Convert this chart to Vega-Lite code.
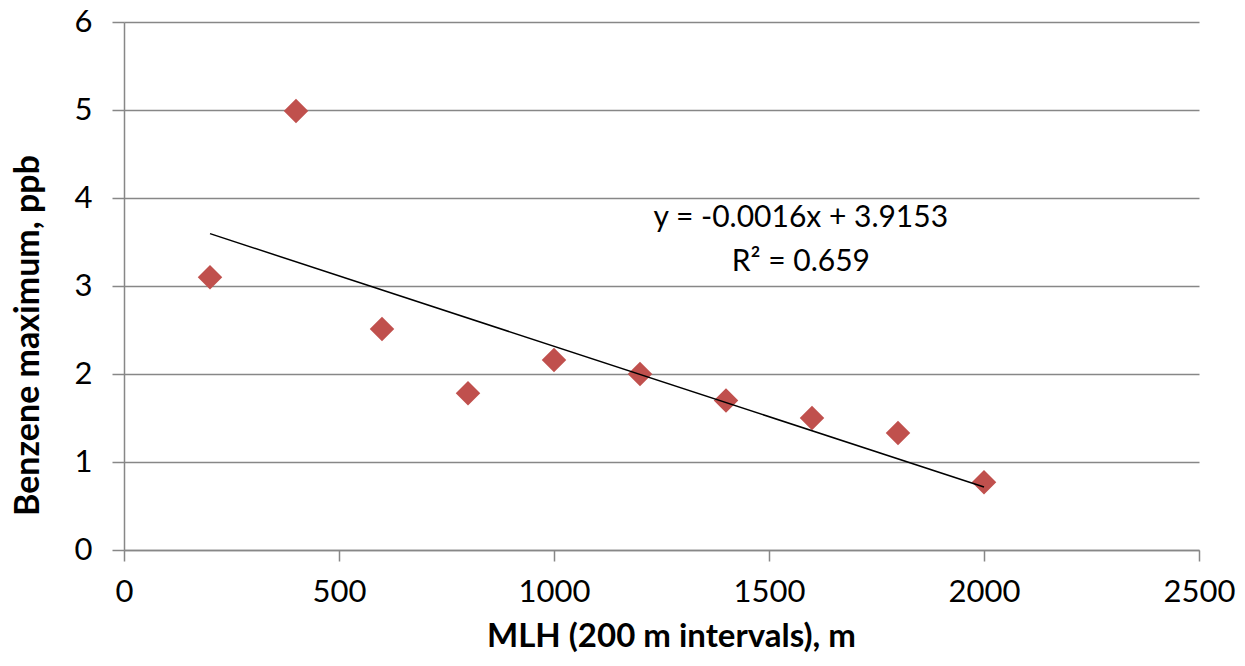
{
  "$schema": "https://vega.github.io/schema/vega-lite/v6.json",
  "autosize": "none",
  "width": 1075,
  "height": 528,
  "padding": {"left": 124, "top": 22, "right": 46, "bottom": 116},
  "background": "white",
  "config": {
    "view": {"stroke": null},
    "font": "Lato",
    "axis": {
      "labelFont": "Lato",
      "titleFont": "Lato",
      "labelFontSize": 31,
      "titleFontSize": 33,
      "labelColor": "#000000",
      "titleColor": "#000000",
      "titleFontWeight": "bold",
      "domainColor": "#878787",
      "tickColor": "#878787",
      "gridColor": "#878787",
      "domainWidth": 1.5,
      "tickWidth": 1.5,
      "gridWidth": 1.5
    }
  },
  "datasets": {
    "points": [
      {"mlh": 200, "benzene": 3.1},
      {"mlh": 400, "benzene": 4.99},
      {"mlh": 600, "benzene": 2.51},
      {"mlh": 800, "benzene": 1.78},
      {"mlh": 1000, "benzene": 2.16},
      {"mlh": 1200, "benzene": 2.0},
      {"mlh": 1400, "benzene": 1.7},
      {"mlh": 1600, "benzene": 1.5},
      {"mlh": 1800, "benzene": 1.33},
      {"mlh": 2000, "benzene": 0.77}
    ],
    "trend": [
      {"mlh": 200, "benzene": 3.595},
      {"mlh": 2000, "benzene": 0.715}
    ],
    "labels": [
      {"mlh": 1574, "benzene": 3.77, "text": "y = -0.0016x + 3.9153"},
      {"mlh": 1574, "benzene": 3.27, "text": "R² = 0.659"}
    ]
  },
  "layer": [
    {
      "data": {"name": "points"},
      "mark": {"type": "point", "shape": "diamond", "filled": true, "size": 600, "color": "#C0504D", "opacity": 1},
      "encoding": {
        "x": {
          "field": "mlh", "type": "quantitative",
          "scale": {"domain": [0, 2500], "nice": false},
          "axis": {
            "title": "MLH (200 m intervals), m",
            "values": [0, 500, 1000, 1500, 2000, 2500],
            "format": "d",
            "grid": false,
            "tickSize": 11,
            "labelPadding": 16,
            "titlePadding": 13,
            "titleX": 547,
            "labelFlush": false
          }
        },
        "y": {
          "field": "benzene", "type": "quantitative",
          "scale": {"domain": [0, 6], "nice": false},
          "axis": {
            "title": "Benzene maximum, ppb",
            "titleFontSize": 34,
            "values": [0, 1, 2, 3, 4, 5, 6],
            "format": "d",
            "grid": true,
            "tickSize": 12,
            "labelPadding": 20,
            "titlePadding": 29,
            "titleY": 313,
            "labelFlush": false
          }
        }
      }
    },
    {
      "data": {"name": "trend"},
      "mark": {"type": "line", "color": "#000000", "strokeWidth": 1.5},
      "encoding": {
        "x": {"field": "mlh", "type": "quantitative"},
        "y": {"field": "benzene", "type": "quantitative"}
      }
    },
    {
      "data": {"name": "labels"},
      "mark": {"type": "text", "font": "Lato", "fontSize": 30, "color": "#000000", "align": "center", "baseline": "middle"},
      "encoding": {
        "x": {"field": "mlh", "type": "quantitative"},
        "y": {"field": "benzene", "type": "quantitative"},
        "text": {"field": "text", "type": "nominal"}
      }
    }
  ]
}
